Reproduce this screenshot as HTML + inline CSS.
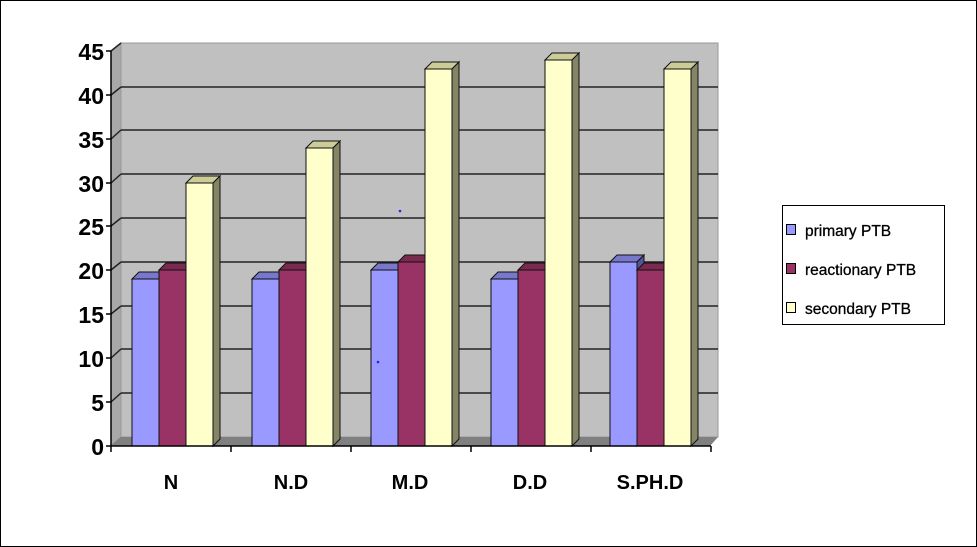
<!DOCTYPE html>
<html><head><meta charset="utf-8"><style>
html,body{margin:0;padding:0;background:#fff}
svg{display:block}
text{font-family:"Liberation Sans",sans-serif}
</style></head><body>
<svg width="977" height="547" viewBox="0 0 977 547" xmlns="http://www.w3.org/2000/svg">
<rect x="0.5" y="0.5" width="976" height="546" fill="#fff" stroke="#000"/>
<polygon points="111,51 121,43 121,437 111,446" fill="#a8a8a8" stroke="#888" stroke-width="1"/>
<rect x="121" y="43" width="597" height="394" fill="#c0c0c0" stroke="#999" stroke-width="1"/>
<polygon points="111,446 121,437 718,437 710,446" fill="#808080"/>
<g stroke="#222" stroke-width="1.5">
<line x1="121" y1="393" x2="718" y2="393"/><line x1="111" y1="402" x2="121" y2="393"/>
<line x1="121" y1="349" x2="718" y2="349"/><line x1="111" y1="358" x2="121" y2="349"/>
<line x1="121" y1="306" x2="718" y2="306"/><line x1="111" y1="314" x2="121" y2="306"/>
<line x1="121" y1="262" x2="718" y2="262"/><line x1="111" y1="270" x2="121" y2="262"/>
<line x1="121" y1="218" x2="718" y2="218"/><line x1="111" y1="226" x2="121" y2="218"/>
<line x1="121" y1="174" x2="718" y2="174"/><line x1="111" y1="183" x2="121" y2="174"/>
<line x1="121" y1="130" x2="718" y2="130"/><line x1="111" y1="139" x2="121" y2="130"/>
<line x1="121" y1="87" x2="718" y2="87"/><line x1="111" y1="95" x2="121" y2="87"/>
<line x1="111" y1="51" x2="121" y2="43"/>
</g>
<g stroke="#111" stroke-width="1">
<rect x="132" y="279" width="27" height="167" fill="#9999ff"/><polygon points="132,279 139,272 166,272 159,279" fill="#7777cc"/>
<rect x="159" y="270" width="27" height="176" fill="#993366"/><polygon points="159,270 166,263 193,263 186,270" fill="#7a2950"/>
<rect x="186" y="183" width="27" height="263" fill="#ffffcc"/><polygon points="186,183 193,176 220,176 213,183" fill="#cccc99"/><polygon points="213,183 220,176 220,439 213,446" fill="#858566"/>
<rect x="252" y="279" width="27" height="167" fill="#9999ff"/><polygon points="252,279 259,272 286,272 279,279" fill="#7777cc"/>
<rect x="279" y="270" width="27" height="176" fill="#993366"/><polygon points="279,270 286,263 313,263 306,270" fill="#7a2950"/>
<rect x="306" y="148" width="27" height="298" fill="#ffffcc"/><polygon points="306,148 313,141 340,141 333,148" fill="#cccc99"/><polygon points="333,148 340,141 340,439 333,446" fill="#858566"/>
<rect x="371" y="270" width="27" height="176" fill="#9999ff"/><polygon points="371,270 378,263 405,263 398,270" fill="#7777cc"/>
<rect x="398" y="262" width="27" height="184" fill="#993366"/><polygon points="398,262 405,255 432,255 425,262" fill="#7a2950"/>
<rect x="425" y="69" width="27" height="377" fill="#ffffcc"/><polygon points="425,69 432,62 459,62 452,69" fill="#cccc99"/><polygon points="452,69 459,62 459,439 452,446" fill="#858566"/>
<rect x="491" y="279" width="27" height="167" fill="#9999ff"/><polygon points="491,279 498,272 525,272 518,279" fill="#7777cc"/>
<rect x="518" y="270" width="27" height="176" fill="#993366"/><polygon points="518,270 525,263 552,263 545,270" fill="#7a2950"/>
<rect x="545" y="60" width="27" height="386" fill="#ffffcc"/><polygon points="545,60 552,53 579,53 572,60" fill="#cccc99"/><polygon points="572,60 579,53 579,439 572,446" fill="#858566"/>
<rect x="610" y="262" width="27" height="184" fill="#9999ff"/><polygon points="610,262 617,255 644,255 637,262" fill="#7777cc"/><polygon points="637,262 644,255 644,439 637,446" fill="#555599"/>
<rect x="637" y="270" width="27" height="176" fill="#993366"/><polygon points="637,270 644,263 671,263 664,270" fill="#7a2950"/>
<rect x="664" y="69" width="27" height="377" fill="#ffffcc"/><polygon points="664,69 671,62 698,62 691,69" fill="#cccc99"/><polygon points="691,69 698,62 698,439 691,446" fill="#858566"/>
</g>
<circle cx="378" cy="362" r="1.3" fill="#22f"/><circle cx="400" cy="211" r="1.3" fill="#22f"/>
<g stroke="#000" stroke-width="1.5">
<line x1="111" y1="51" x2="111" y2="446"/>
<line x1="111" y1="446" x2="711" y2="446"/>
<line x1="106" y1="446" x2="111" y2="446"/><line x1="106" y1="402" x2="111" y2="402"/><line x1="106" y1="358" x2="111" y2="358"/><line x1="106" y1="314" x2="111" y2="314"/><line x1="106" y1="270" x2="111" y2="270"/><line x1="106" y1="226" x2="111" y2="226"/><line x1="106" y1="183" x2="111" y2="183"/><line x1="106" y1="139" x2="111" y2="139"/><line x1="106" y1="95" x2="111" y2="95"/><line x1="106" y1="51" x2="111" y2="51"/>
<line x1="111" y1="446" x2="111" y2="452"/><line x1="231" y1="446" x2="231" y2="452"/><line x1="351" y1="446" x2="351" y2="452"/><line x1="471" y1="446" x2="471" y2="452"/><line x1="591" y1="446" x2="591" y2="452"/><line x1="711" y1="446" x2="711" y2="452"/>
</g>
<g font-size="23" font-weight="bold" text-anchor="end" fill="#000">
<text x="104" y="455">0</text><text x="104" y="411">5</text><text x="104" y="367">10</text><text x="104" y="323">15</text><text x="104" y="279">20</text><text x="104" y="235">25</text><text x="104" y="192">30</text><text x="104" y="148">35</text><text x="104" y="104">40</text><text x="104" y="60">45</text>
</g>
<g font-size="20" font-weight="bold" text-anchor="middle" fill="#000">
<text x="171" y="489">N</text><text x="291" y="489">N.D</text><text x="410" y="489">M.D</text><text x="530" y="489">D.D</text><text x="650" y="489">S.PH.D</text>
</g>
<rect x="782.5" y="205.5" width="162" height="119" fill="#fff" stroke="#000"/>
<rect x="786.5" y="224.5" width="9" height="10" fill="#9999ff" stroke="#000"/>
<rect x="786.5" y="263.5" width="9" height="10" fill="#993366" stroke="#000"/>
<rect x="786.5" y="302.5" width="9" height="10" fill="#ffffcc" stroke="#000"/>
<g font-size="15.5" fill="#000" stroke="#000" stroke-width="0.3">
<text x="805" y="236">primary PTB</text><text x="805" y="275">reactionary PTB</text><text x="805" y="314">secondary PTB</text>
</g>
</svg>
</body></html>
